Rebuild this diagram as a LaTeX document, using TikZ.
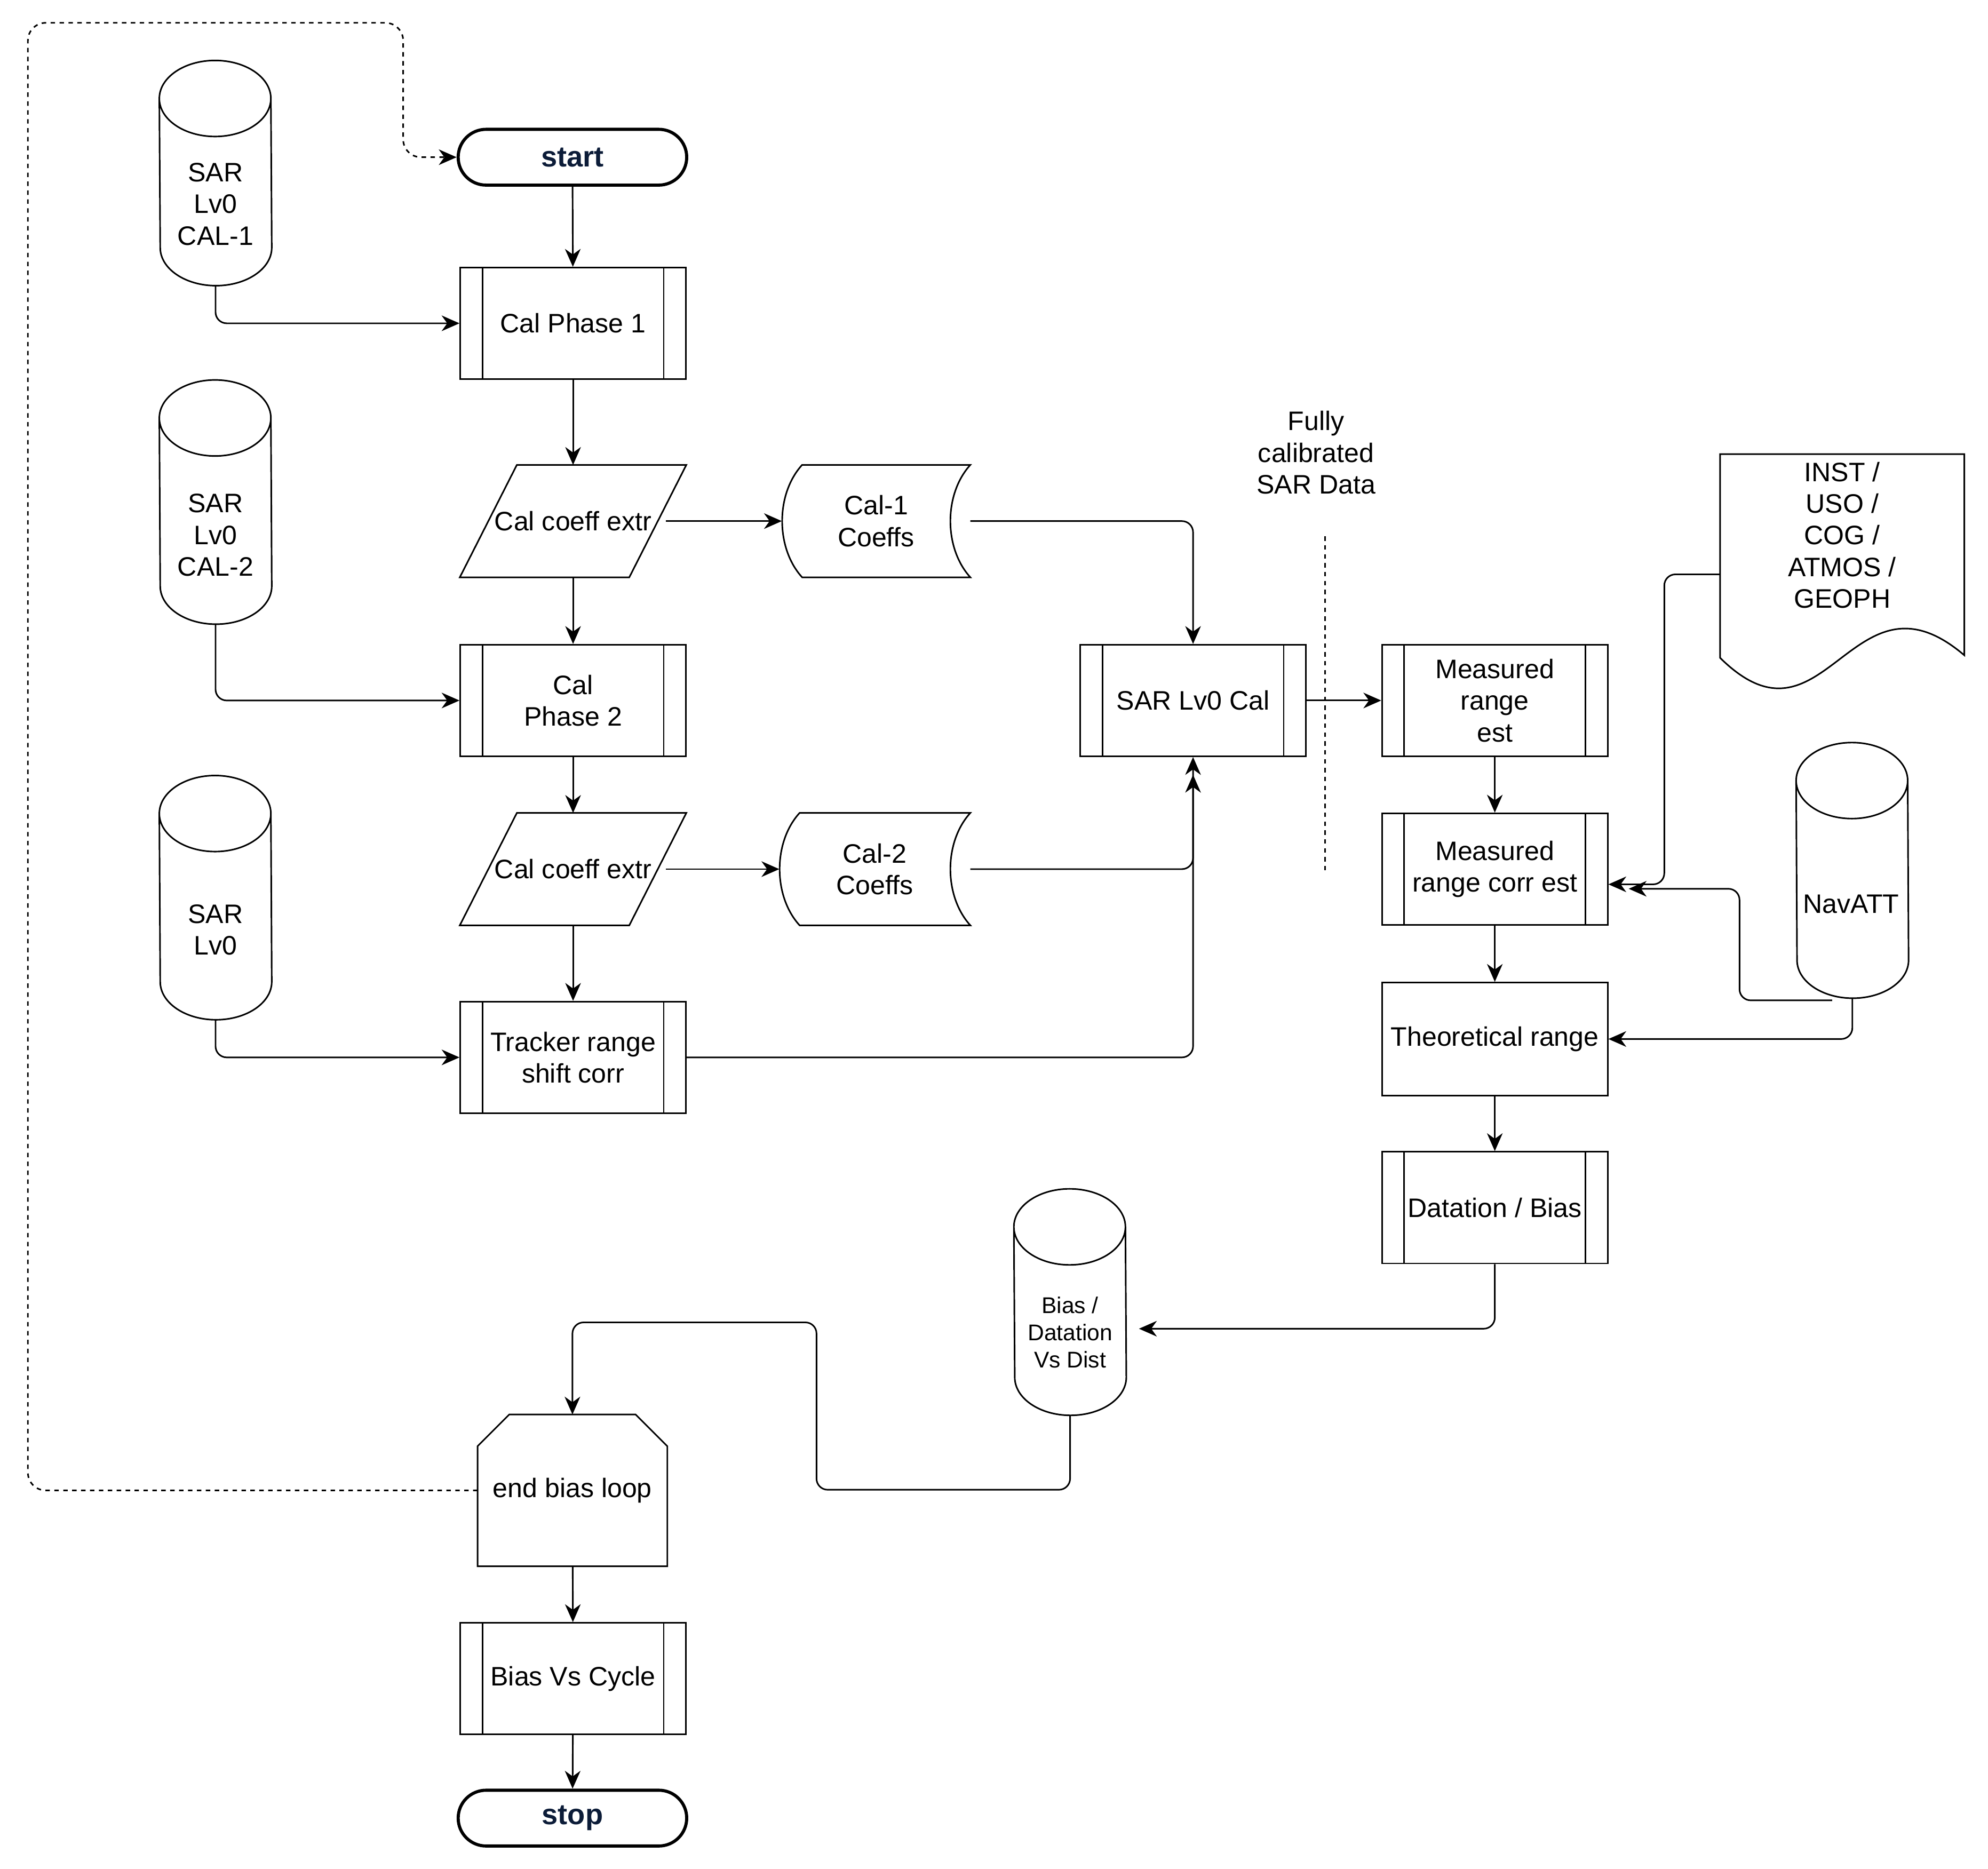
\documentclass[tikz,border=0pt]{standalone}
\usepackage{fontspec}
\setmainfont{Liberation Sans}
\usetikzlibrary{shapes.misc,arrows.meta,calc}
\definecolor{termtext}{RGB}{12,28,56}
\tikzset{
  every node/.style={font=\fontsize{12}{14.2}\selectfont},
  ln/.style={line width=0.7pt},
  arr/.style={ln,-{Stealth[length=8pt,width=7pt,inset=2.5pt]},rounded corners=5pt},
  dotln/.style={line width=0.7pt,dash pattern=on 2pt off 2pt},
  term/.style={rounded rectangle,draw,line width=1.4pt,minimum width=3.84cm,minimum height=0.88cm,
    font=\fontsize{13}{15}\selectfont\bfseries,text=termtext},
  proc/.style={draw,ln,minimum width=3.56cm,minimum height=1.76cm,align=center,inner sep=1pt,
    path picture={\draw[ln] ([xshift=0.35cm]path picture bounding box.north west) -- ([xshift=0.35cm]path picture bounding box.south west)
      ([xshift=-0.35cm]path picture bounding box.north east) -- ([xshift=-0.35cm]path picture bounding box.south east);}},
  plain/.style={draw,ln,minimum width=3.56cm,minimum height=1.78cm,align=center},
  pbox/.style={rectangle,minimum width=3.56cm,minimum height=1.76cm},
  store/.style={rectangle,minimum height=1.76cm,align=center},
  cylbox/.style={rectangle,minimum width=1.76cm},
  loopbox/.style={rectangle,minimum width=2.98cm,minimum height=2.38cm}
}
\begin{document}
\begin{tikzpicture}[x=0.02cm,y=-0.02cm]
\useasboundingbox (0,0) rectangle (1568,1474);
\node (start) at (451.5,124) [term] {start};
\node (cp1) at (452,255) [proc] {Cal Phase 1};
\node (ex1) at (452,411) [pbox] {Cal coeff extr};
\node (cp2) at (452,552.5) [proc] {Cal\\Phase 2};
\node (ex2) at (452,685.5) [pbox] {Cal coeff extr};
\node (trk) at (452,834) [proc] {Tracker range\\shift corr};
\foreach \n in {ex1,ex2}
\draw[ln] (\n.south west) -- ($(\n.north west)+(45,0)$) -- (\n.north east) -- ($(\n.south east)+(-45,0)$) -- cycle;
\node (c1) at (691,411) [store,minimum width=2.96cm] {Cal-1\\Coeffs};
\node (c2) at (690,685.5) [store,minimum width=3cm] {Cal-2\\Coeffs};
\foreach \n in {c1,c2}
\draw[ln] ($(\n.north west)+(16,0)$) -- (\n.north east) .. controls +(-21,23) and +(-21,-23) .. (\n.south east)
  -- ($(\n.south west)+(16,0)$) .. controls +(-21,-23) and +(-21,23) .. ($(\n.north west)+(16,0)$) -- cycle;
\node (s1) at (170,136.5) [cylbox,minimum height=3.54cm] {};
\node (s1t) at (170,161) [align=center] {SAR\\Lv0\\CAL-1};
\node (s2) at (170,396) [cylbox,minimum height=3.84cm] {};
\node (s2t) at (170,422) [align=center] {SAR\\Lv0\\CAL-2};
\node (s3) at (170,708) [cylbox,minimum height=3.84cm] {};
\node (s3t) at (170,733.5) [align=center] {SAR\\Lv0};
\node (cal) at (941,552.5) [proc] {SAR Lv0 Cal};
\node (fcs) at (1038,357) [align=center] {Fully\\calibrated\\SAR Data};
\draw[dotln] (1045,423) -- (1045,688);
\node (mre) at (1179,552.5) [proc] {Measured\\range\\est};
\node (mrce) at (1179,685.5) [proc] {Measured\\range corr est};
\node (thr) at (1179,819.5) [plain] {Theoretical range};
\node (dat) at (1179,952.5) [proc] {Datation / Bias};
\node (doc) at (1453,422) [rectangle,minimum width=3.84cm,minimum height=2.52cm,align=center] {INST /\\USO /\\COG /\\ATMOS /\\GEOPH};
\draw[ln] (doc.north west) -- (doc.north east) -- ($(doc.south east)+(0,31)$)
  .. controls +(-89,-76) and +(83,82) .. ($(doc.south west)+(0,33)$) -- cycle;
\node (nav) at (1461,686.5) [cylbox,minimum height=4.02cm] {};
\node (navt) at (1460,713) {NavATT};
\node (bias) at (844,1027) [cylbox,minimum height=3.56cm] {};
\node (biast) at (844,1051) [align=center,font=\fontsize{10.2}{12.2}\selectfont] {Bias /\\Datation\\Vs Dist};
\foreach \n in {s1,s2,s3,nav,bias}
\draw[ln] ($(\n.north west)+(0,30)$) arc[start angle=180,end angle=0,x radius=0.88cm,y radius=0.6cm]
  -- ($(\n.south east)+(0,-30)$) arc[start angle=0,end angle=-180,x radius=0.88cm,y radius=0.6cm] -- cycle
  ($(\n.north west)+(0,30)$) arc[start angle=180,end angle=360,x radius=0.88cm,y radius=0.6cm];
\node (loop) at (451.5,1175.5) [loopbox] {end bias loop};
\draw[ln] (loop.south west) -- ($(loop.north west)+(0,25)$) -- ($(loop.north west)+(25,0)$) -- ($(loop.north east)+(-25,0)$)
  -- ($(loop.north east)+(0,25)$) -- (loop.south east) -- cycle;
\node (bvc) at (452,1324) [proc] {Bias Vs Cycle};
\node (stop) at (451.5,1434) [term] {stop};
\foreach \a/\b in {start/cp1,cp1/ex1,ex1/cp2,cp2/ex2,ex2/trk,mre/mrce,mrce/thr,thr/dat,loop/bvc,bvc/stop}
\draw[arr] (\a) -- (\b);
\foreach \a/\b in {s1/cp1,s2/cp2,s3/trk}
\draw[arr] (\a) |- (\b);
\draw[arr] ($(ex1.east)+(-16,0)$) -- (c1);
\draw[arr] ($(ex2.east)+(-16,0)$) -- (c2);
\draw[arr] (c1) -| (cal);
\draw[arr] (c2) -| (cal);
\draw[arr,shorten >=0.28cm] (trk) -| (cal);
\draw[arr] (cal) -- (mre);
\draw[arr] ($(doc.west)+(0,31)$) -- ++(-44,0) |- ($(mrce.east)+(0,12)$);
\draw[arr,shorten >=0.32cm] ($(nav.center)+(-16,102.5)$) -- ++(-73,0) |- ($(mrce.east)+(0,15.5)$);
\draw[arr] (nav) |- (thr);
\draw[arr,shorten >=0.2cm] (dat) |- ($(bias.east)+(0,21)$);
\draw[arr] (bias) |- ++(-200,148) -- ++(0,-132) -| (loop);
\draw[arr,dotln,rounded corners=8pt] (loop.west) -| (22,18) -| (318,124) -- (start.west);
\end{tikzpicture}
\end{document}
